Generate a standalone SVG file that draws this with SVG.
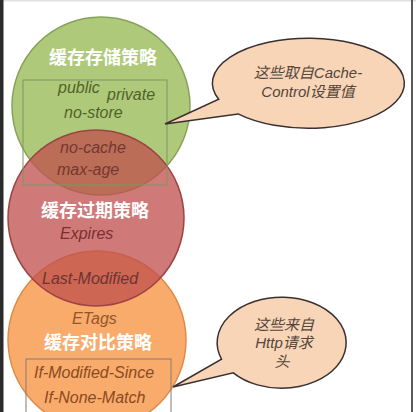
<svg xmlns="http://www.w3.org/2000/svg" width="416" height="412" viewBox="0 0 416 412">
<style>
.title{font-family:"Noto Sans CJK SC","Noto Sans",sans-serif;font-weight:bold;font-size:18px;fill:#ffffff;text-anchor:middle}
.it{font-family:"Liberation Sans",Arial,sans-serif;font-style:italic;font-size:16px}
.call{font-family:"Liberation Sans","Noto Sans CJK SC",sans-serif;font-style:italic;font-size:15px;fill:#54463b;text-anchor:middle}
.bubble{fill:#f9d5b8;stroke:#3a3030;stroke-width:1.5}
.box{fill:none;stroke-width:1}
</style>
<rect x="0" y="0" width="416" height="412" fill="#ffffff"/>
<rect x="0" y="0" width="416" height="1.5" fill="#e2e2e2"/>
<rect x="0" y="0" width="3.5" height="412" fill="#2b2b2b"/>
<rect x="411" y="0" width="2" height="412" fill="#5a5a5a"/>
<g id="storage">
<circle cx="101" cy="106" r="89" fill="#9bbb59" fill-opacity="0.8" stroke="#86a35a" stroke-width="1.5"/>
</g>
<g id="compare">
<circle cx="97" cy="340" r="89" fill="#f79646" fill-opacity="0.8" stroke="#e08a48" stroke-width="1.5"/>
</g>
<g id="expire">
<circle cx="96" cy="218" r="88" fill="#c0504d" fill-opacity="0.76" stroke="#9c4443" stroke-width="1.5"/>
</g>
<g id="storage-box">
<rect class="box" x="23" y="80" width="144" height="105" stroke="#7f9660"/>
</g>
<g id="compare-box">
<rect class="box" x="26" y="359" width="145" height="60" stroke="#8a7a70"/>
</g>
<g id="labels">
<text class="title" x="103" y="64">缓存存储策略</text>
<text class="it" x="58" y="93" fill="#4f6228">public</text>
<text class="it" x="107" y="100" fill="#4f6228">private</text>
<text class="it" x="64" y="118" fill="#4f6228">no-store</text>
<text class="it" x="60" y="153" fill="#74382f">no-cache</text>
<text class="it" x="57" y="175" fill="#74382f">max-age</text>
<text class="title" x="95" y="217">缓存过期策略</text>
<text class="it" x="60" y="239" fill="#7a2f30">Expires</text>
<text class="it" x="42" y="284" fill="#6b3430">Last-Modified</text>
<text class="it" x="72" y="324" fill="#94552c">ETags</text>
<text class="title" x="98" y="349">缓存对比策略</text>
<text class="it" x="34" y="378" fill="#8a4a22">If-Modified-Since</text>
<text class="it" x="44" y="403" fill="#8a4a22">If-None-Match</text>
</g>
<g id="connectors">
<g id="callout-cache-control">
<path class="bubble" d="M 238.1 113.9 A 96 45 0 1 0 218.7 99.3 L 165 124 Z"/>
<text class="call" x="308" y="78">这些取自Cache-</text>
<text class="call" x="308" y="97">Control设置值</text>
</g>
<g id="callout-http">
<path class="bubble" d="M 233.3 372.8 A 64.5 45.5 0 1 0 221.5 359.1 L 173 387 Z"/>
<text class="call" x="284" y="330">这些来自</text>
<text class="call" x="284" y="348">Http请求</text>
<text class="call" x="282" y="367">头</text>
</g>
</g>
</svg>
